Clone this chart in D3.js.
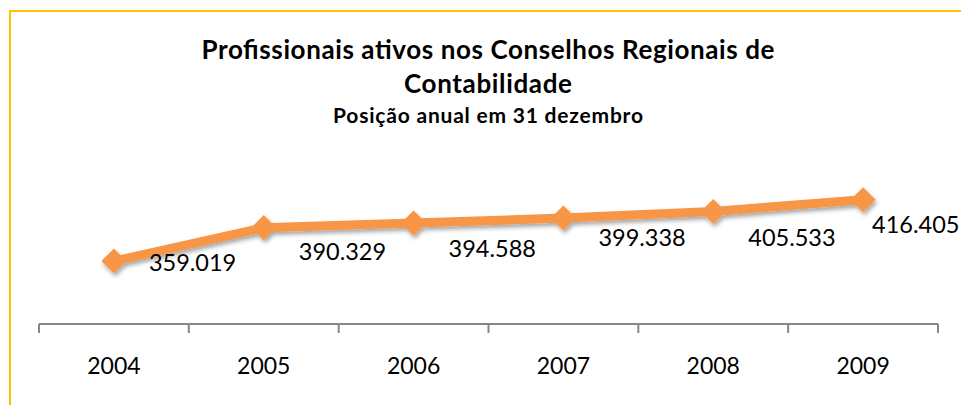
<!DOCTYPE html>
<html>
<head>
<meta charset="utf-8">
<script src="https://cdn.jsdelivr.net/npm/d3@7"></script>
<style>
  body { margin: 0; background: #fff; }
  svg { display: block; font-family: Lato, "Open Sans", sans-serif; }
</style>
</head>
<body>
<svg id="chart"></svg>
<script>
// chart data
const years = ["2004", "2005", "2006", "2007", "2008", "2009"];
const profissionais = [359019, 390329, 394588, 399338, 405533, 416405];
const titleLines = ["Profissionais ativos nos Conselhos Regionais de", "Contabilidade"];
const subtitle = "Posição anual em 31 dezembro";

// label nudges (px) - labels were dragged by hand in the original
const labelDx = [35, 35, 35, 35, 35, 9];
const labelDy = [1, 24, 25, 20, 26, 25];

const width = 961, height = 405;
const svg = d3.select("#chart").attr("width", width).attr("height", height);

// drop shadow for the line
const defs = svg.append("defs");
const f = defs.append("filter").attr("id", "shadow")
    .attr("x", "-20%").attr("y", "-50%").attr("width", "140%").attr("height", "200%");
f.append("feDropShadow")
    .attr("dx", 1.5).attr("dy", 3).attr("stdDeviation", 2)
    .attr("flood-color", "#000").attr("flood-opacity", 0.35);

// outer border (runs off the right & bottom edge)
svg.append("rect")
    .attr("x", 10).attr("y", 11)
    .attr("width", 1000).attr("height", 500)
    .attr("fill", "none")
    .attr("stroke", "#FFC000")
    .attr("stroke-width", 2);

// titles - Calibri is wider than Lato, so stretch to the original widths
const titleWidths = [573, 168];
svg.selectAll(".title")
    .data(titleLines)
    .enter()
    .append("text")
    .attr("class", "title")
    .attr("x", 488)
    .attr("y", (d, i) => 59 + i * 34)
    .attr("text-anchor", "middle")
    .attr("font-weight", "bold")
    .attr("font-size", "26px")
    .attr("textLength", (d, i) => titleWidths[i])
    .attr("lengthAdjust", "spacing")
    .text(d => d);

svg.append("text")
    .attr("x", 488).attr("y", 123)
    .attr("text-anchor", "middle")
    .attr("font-weight", "bold")
    .attr("font-size", "21px")
    .attr("textLength", 310)
    .attr("lengthAdjust", "spacing")
    .text(subtitle);

// scales
const x = d3.scaleBand().domain(years).range([39, 938]);
const y = d3.scaleLinear().domain([300000, 450000]).range([324, 164]);
const cx = d => x(d) + x.bandwidth() / 2;

// category axis
const xAxis = svg.append("g")
    .attr("transform", "translate(0,324)")
    .call(d3.axisBottom(x).tickSize(0).tickPadding(34));
xAxis.select(".domain").remove();
xAxis.selectAll("text")
    .attr("font-family", "Lato, sans-serif")
    .attr("font-size", "23px")
    .attr("fill", "#000");

// axis line with tick marks between categories
const bounds = years.map(d => x(d)).concat([x.range()[1]]);
xAxis.append("line")
    .attr("x1", 39).attr("x2", 938)
    .attr("stroke", "#868686").attr("stroke-width", 2);
xAxis.selectAll(".sep")
    .data(bounds)
    .enter()
    .append("line")
    .attr("class", "sep")
    .attr("x1", d => d).attr("x2", d => d)
    .attr("y1", 0).attr("y2", 9)
    .attr("stroke", "#868686").attr("stroke-width", 2);

// series
const data = years.map((yr, i) => ({ year: yr, value: profissionais[i], i: i }));
const line = d3.line().x(d => cx(d.year)).y(d => y(d.value));

const series = svg.append("g").attr("filter", "url(#shadow)");
series.append("path")
    .datum(data)
    .attr("d", line)
    .attr("fill", "none")
    .attr("stroke", "#F79646")
    .attr("stroke-width", 9)
    .attr("stroke-linejoin", "round");

series.selectAll(".marker")
    .data(data)
    .enter()
    .append("path")
    .attr("class", "marker")
    .attr("d", d3.symbol(d3.symbolDiamond2, 400))
    .attr("transform", d => `translate(${cx(d.year)},${y(d.value)})`)
    .attr("fill", "#F79646");

// data labels
const fmt = v => d3.format(",")(v).replace(/,/g, ".");
svg.selectAll(".lbl")
    .data(data)
    .enter()
    .append("text")
    .attr("class", "lbl")
    .attr("x", d => cx(d.year) + labelDx[d.i])
    .attr("y", d => y(d.value) + labelDy[d.i])
    .attr("dy", "0.36em")
    .attr("font-size", "23.5px")
    .attr("fill", "#000")
    .text(d => fmt(d.value));
</script>
</body>
</html>
